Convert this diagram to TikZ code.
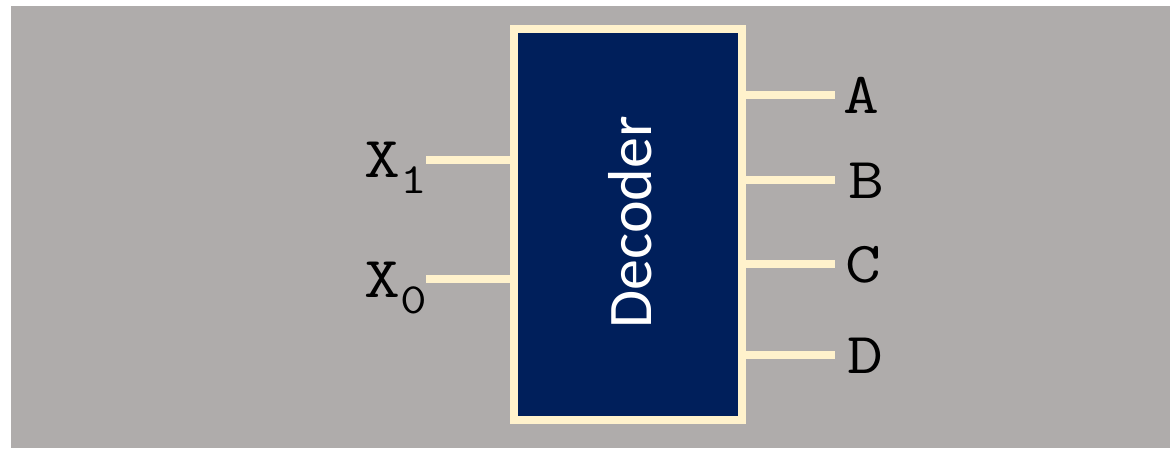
\documentclass[tikz,border=0pt]{standalone}
\usepackage{fontspec}
\usepackage{graphicx}
\newfontfamily\carlito{Carlito}
\definecolor{bggray}{RGB}{175,172,171}
\definecolor{navy}{RGB}{0,31,91}
\definecolor{cream}{RGB}{255,242,204}
\newcommand{\wide}[1]{\scalebox{1.2}[1]{#1}}
\begin{document}
\begin{tikzpicture}[x=1pt,y=-1pt,
  wire/.style={draw=cream,line width=8pt},
  lbl/.style={inner sep=0pt,font=\ttfamily\fontsize{58}{58}\selectfont,text=black},
  decbox/.style={draw=cream,fill=navy,line width=8pt,inner sep=0pt,minimum width=228pt,minimum height=391pt}]
\fill[white] (0,0) rectangle (1170,448);
\fill[bggray] (11,6) rectangle (1170,448);
\useasboundingbox (0,0) rectangle (1170,448);
% wire ends
\coordinate (x1e) at (426,159.5);
\coordinate (x0e) at (426,279);
\coordinate (ae) at (835,95);
\coordinate (be) at (835,180);
\coordinate (ce) at (835,264);
\coordinate (de) at (835,355);
\node[decbox] (dec) at (628,224.25) {};
\draw[wire] (dec.west |- x1e) -- (x1e);
\draw[wire] (dec.west |- x0e) -- (x0e);
\draw[wire] (dec.east |- ae) -- (ae);
\draw[wire] (dec.east |- be) -- (be);
\draw[wire] (dec.east |- ce) -- (ce);
\draw[wire] (dec.east |- de) -- (de);
\node[decbox] at (dec) {};
\node[text=white,rotate=90,inner sep=0pt,font=\carlito\fontsize{62}{62}\selectfont] (dtext) at (630,222.5) {Decoder};
% labels
\node[lbl,anchor=base west] (x1l) at (364,177) {\wide{X}\raisebox{-16pt}{\fontsize{43}{43}\selectfont\wide{1}}};
\node[lbl,anchor=base west] (x0l) at (364,297) {\wide{X}\raisebox{-16pt}{\fontsize{43}{43}\selectfont\wide{0}}};
\node[lbl,anchor=base west] (al) at (843,113) {\wide{A}};
\node[lbl,anchor=base west] (bl) at (848,198) {\wide{B}};
\node[lbl,anchor=base west] (cl) at (845,282) {\wide{C}};
\node[lbl,anchor=base west] (dl) at (847,373) {\wide{D}};
\end{tikzpicture}
\end{document}
